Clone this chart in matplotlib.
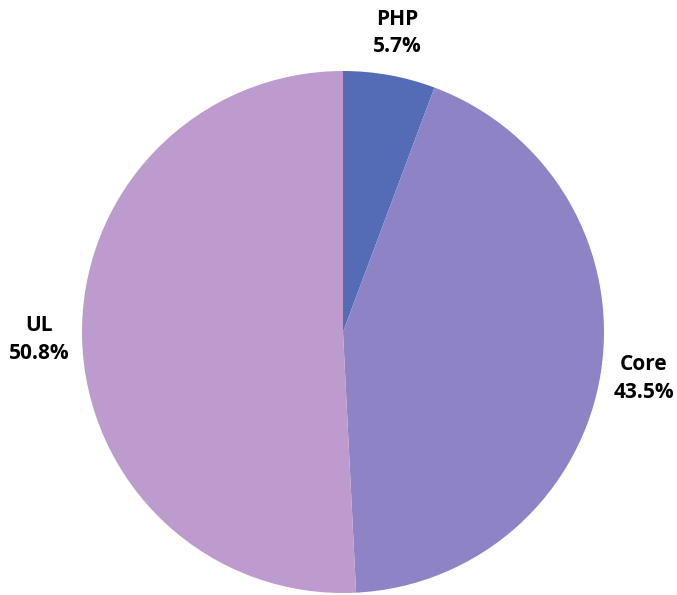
import matplotlib.pyplot as plt
from matplotlib import font_manager as fm

labels = ['PHP', 'Core', 'UL']
shares = [5.7, 43.5, 50.8]
colors = ['#536cb5', '#8e83c5', '#bd9bcf']

w, h = 677, 595
cx, cy, r = 343, 332, 261

bold = [f.fname for f in fm.fontManager.ttflist if f.fname.endswith('OpenSans-Bold.ttf')]
fp = fm.FontProperties(fname=bold[0], size=15) if bold else fm.FontProperties(family='Open Sans', weight='bold', size=15)

fig = plt.figure(figsize=(w / 100, h / 100), dpi=100)
ax = fig.add_axes([0, 0, 1, 1])


def fmt(pct):
    i = min(range(len(shares)), key=lambda k: abs(shares[k] - pct))
    return '%s\n%.1f%%' % (labels[i], shares[i])


wedges, texts, autotexts = ax.pie(
    shares, colors=colors, startangle=90, counterclock=False,
    autopct=fmt, pctdistance=1.165,
    textprops=dict(fontproperties=fp, color='black', linespacing=1.4),
)

ax.set_xlim(-cx / r, (w - cx) / r)
ax.set_ylim(-(h - cy) / r, cy / r)
ax.axis('off')

plt.savefig('out.png', dpi=100)
